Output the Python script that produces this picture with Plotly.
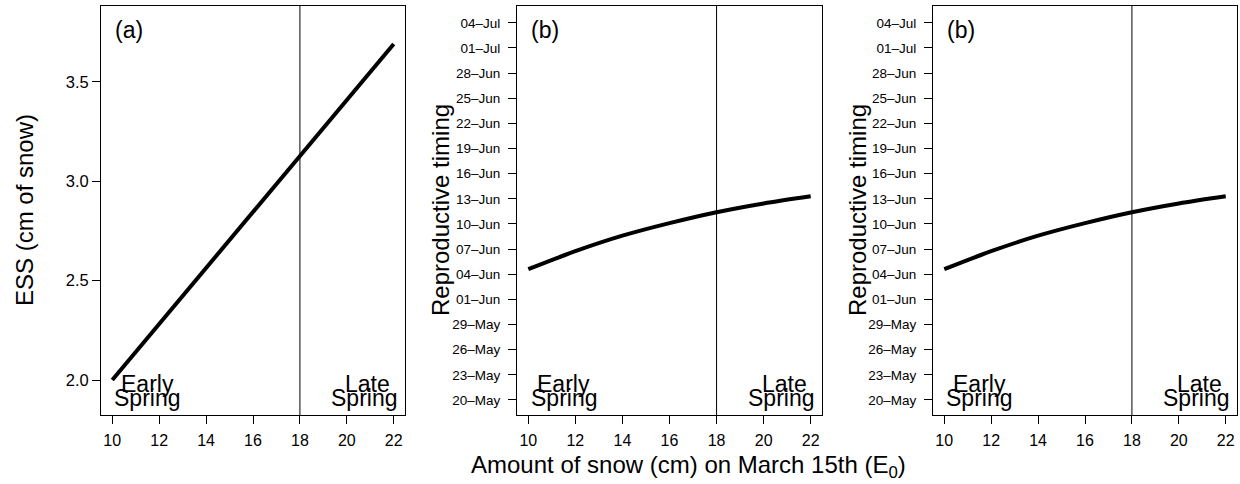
import plotly.graph_objects as go

# ---------------- data ----------------
snow_a = [10, 22]
ess = [2.00, 3.69]

snow_b = [10, 12, 14, 16, 18, 20, 22]
# reproductive timing, day of year (non-leap year): 20-May = 140
timing_doy = [155.6, 157.75, 159.6, 161.1, 162.4, 163.45, 164.3]

x_ticks = [10, 12, 14, 16, 18, 20, 22]
ess_ticks = [2.0, 2.5, 3.0, 3.5]
ess_tick_text = ["2.0", "2.5", "3.0", "3.5"]
date_tick_doy = [140, 143, 146, 149, 152, 155, 158, 161, 164, 167, 170, 173, 176, 179, 182, 185]
date_tick_text = ["20\u2013May", "23\u2013May", "26\u2013May", "29\u2013May", "01\u2013Jun", "04\u2013Jun",
                  "07\u2013Jun", "10\u2013Jun", "13\u2013Jun", "16\u2013Jun", "19\u2013Jun", "22\u2013Jun",
                  "25\u2013Jun", "28\u2013Jun", "01\u2013Jul", "04\u2013Jul"]
threshold = 18
panel_labels = ["(a)", "(b)", "(b)"]

# ---------------- layout ----------------
W, H = 1240, 484
FONT = "Liberation Sans, Arial, Helvetica, sans-serif"
ytop, ybot = 6, 415
ydom = [1 - ybot / H, 1 - ytop / H]
boxes = [(101, 405), (517, 822), (933, 1237)]

fig = go.Figure()

fig.add_trace(go.Scatter(x=snow_a, y=ess, mode="lines", line=dict(color="black", width=4),
                         xaxis="x", yaxis="y", showlegend=False, hoverinfo="skip"))
for i in (2, 3):
    fig.add_trace(go.Scatter(x=snow_b, y=timing_doy, mode="lines",
                             line=dict(color="black", width=4, shape="spline", smoothing=0.8),
                             xaxis=f"x{i}", yaxis=f"y{i}", showlegend=False, hoverinfo="skip"))

common_x = dict(range=[9.52, 22.48], tickmode="array", tickvals=x_ticks,
                ticks="outside", ticklen=8, tickwidth=1, tickcolor="black",
                showline=True, mirror=True, linecolor="black", linewidth=1,
                showgrid=False, zeroline=False, ticklabelstandoff=3,
                tickfont=dict(family=FONT, size=16, color="black"))
common_y = dict(ticks="outside", ticklen=8, tickwidth=1, tickcolor="black",
                showline=True, mirror=True, linecolor="black", linewidth=1,
                showgrid=False, zeroline=False, tickmode="array")

layout = dict(width=W, height=H, margin=dict(l=0, r=0, t=0, b=0),
              paper_bgcolor="white", plot_bgcolor="white", showlegend=False,
              font=dict(family=FONT, color="black"))
for k, (l, r) in enumerate(boxes):
    sfx = "" if k == 0 else str(k + 1)
    xd = dict(common_x, domain=[l / W, r / W], anchor=f"y{sfx}")
    if k == 0:
        yd = dict(common_y, domain=ydom, anchor="x", range=[1.824, 3.881],
                  tickvals=ess_ticks, ticktext=ess_tick_text,
                  tickfont=dict(family=FONT, size=16.5, color="black"))
    else:
        yd = dict(common_y, domain=ydom, anchor=f"x{sfx}", range=[138.21, 187.0],
                  tickvals=date_tick_doy, ticktext=date_tick_text, ticklabelstandoff=5,
                  tickfont=dict(family=FONT, size=13.5, color="black"))
    layout[f"xaxis{sfx}"] = xd
    layout[f"yaxis{sfx}"] = yd
fig.update_layout(**layout)

annotations = []
shapes = []
for k in range(3):
    sfx = "" if k == 0 else str(k + 1)
    shapes.append(dict(type="line", xref=f"x{sfx}", yref=f"y{sfx} domain", x0=threshold, x1=threshold,
                       y0=0, y1=1, line=dict(color="black", width=1)))
    tf = dict(family=FONT, size=23, color="black")
    annotations.append(dict(x=10.72, y=(ybot - 30) / (ybot - ytop), xref=f"x{sfx}", yref=f"y{sfx} domain",
                            text=panel_labels[k], showarrow=False, font=tf, xanchor="center", yanchor="middle"))
    annotations.append(dict(x=11.5, y=(ybot - 384) / (ybot - ytop), xref=f"x{sfx}", yref=f"y{sfx} domain",
                            text="Early", showarrow=False, font=tf, xanchor="center", yanchor="middle"))
    annotations.append(dict(x=11.5, y=(ybot - 398) / (ybot - ytop), xref=f"x{sfx}", yref=f"y{sfx} domain",
                            text="Spring", showarrow=False, font=tf, xanchor="center", yanchor="middle"))
    annotations.append(dict(x=20.9, y=(ybot - 384) / (ybot - ytop), xref=f"x{sfx}", yref=f"y{sfx} domain",
                            text="Late", showarrow=False, font=tf, xanchor="center", yanchor="middle"))
    annotations.append(dict(x=20.75, y=(ybot - 398) / (ybot - ytop), xref=f"x{sfx}", yref=f"y{sfx} domain",
                            text="Spring", showarrow=False, font=tf, xanchor="center", yanchor="middle"))

title_font = dict(family=FONT, size=24, color="black")
annotations.append(dict(x=24 / W, y=1 - 210 / H, xref="paper", yref="paper", text="ESS (cm of snow)",
                        textangle=-90, showarrow=False, font=title_font, xanchor="center", yanchor="middle"))
for xc in (440, 857):
    annotations.append(dict(x=xc / W, y=1 - 210 / H, xref="paper", yref="paper", text="Reproductive timing",
                            textangle=-90, showarrow=False, font=title_font, xanchor="center", yanchor="middle"))
annotations.append(dict(x=688 / W, y=1 - 466 / H, xref="paper", yref="paper",
                        text="Amount of snow (cm) on March 15th (E<sub>0</sub>)",
                        showarrow=False, font=title_font, xanchor="center", yanchor="middle"))
fig.update_layout(annotations=annotations, shapes=shapes)

fig.write_html("out.html")
